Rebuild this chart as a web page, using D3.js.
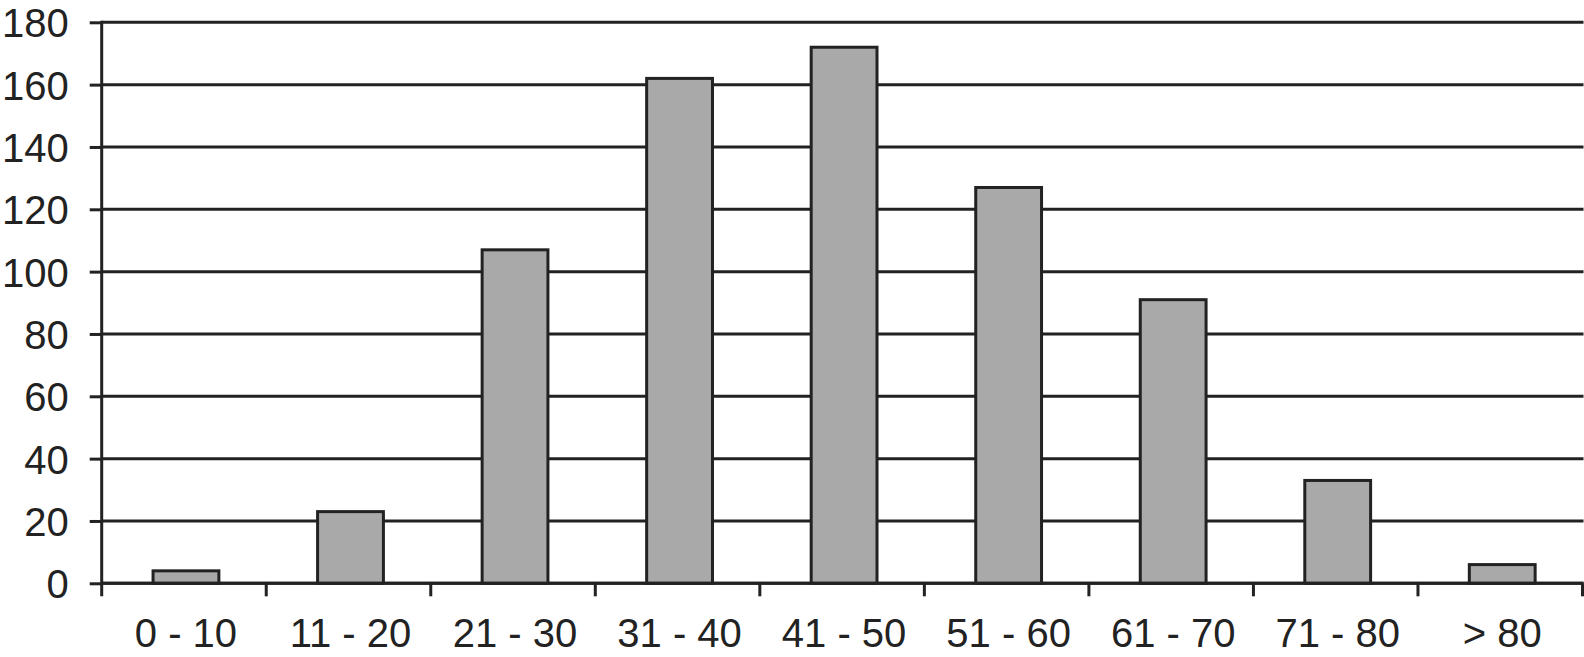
<!DOCTYPE html>
<html><head><meta charset="utf-8">
<script src="https://cdn.jsdelivr.net/npm/d3@7"></script>
<style>html,body{margin:0;padding:0;background:#fff;}svg{display:block;}</style>
</head><body>
<svg id="chart" width="1584" height="657"></svg>
<script>
const categories = ["0 - 10","11 - 20","21 - 30","31 - 40","41 - 50","51 - 60","61 - 70","71 - 80","> 80"];
const values = [4, 23, 107, 162, 172, 127, 91, 33, 6];
const yTicks = [0,20,40,60,80,100,120,140,160,180];

const svg = d3.select("#chart");
const mLeft = 101.7, mRight = 1582.5, mTop = 22.3, mBottom = 583.3;
const ink = "#222";
const font = "'Liberation Sans', Arial, Helvetica, sans-serif";

const y = d3.scaleLinear().domain([0,180]).range([mBottom, mTop]);
const xb = d3.scaleBand().domain(categories).range([mLeft + 2, mRight + 2]).paddingInner(0.6).paddingOuter(0.3);
const xs = d3.scaleBand().domain(categories).range([mLeft, mRight]).padding(0);

// grid lines
svg.append("g").selectAll("line").data(yTicks).join("line")
  .attr("x1", mLeft).attr("x2", mRight + 1)
  .attr("y1", d => y(d)).attr("y2", d => y(d))
  .attr("stroke", ink).attr("stroke-width", 3);

// y axis
const yAxis = svg.append("g").attr("transform", `translate(${mLeft},0)`)
  .call(d3.axisLeft(y).tickValues(yTicks).tickSize(12).tickPadding(21).tickFormat(d3.format("d")));
yAxis.select(".domain").remove();
yAxis.selectAll(".tick line").attr("stroke", ink).attr("stroke-width", 3);
yAxis.selectAll("text").attr("font-family", font).attr("font-size", 40).attr("fill", ink).attr("dy", "0.36em");
svg.append("line").attr("x1", mLeft).attr("x2", mLeft).attr("y1", mTop - 1.5).attr("y2", mBottom + 13)
  .attr("stroke", ink).attr("stroke-width", 3);

// bars
svg.append("g").selectAll("rect").data(values).join("rect")
  .attr("x", (d,i) => xb(categories[i]))
  .attr("width", xb.bandwidth())
  .attr("y", d => y(d))
  .attr("height", d => y(0) - y(d))
  .attr("fill", "#a9a9a9").attr("stroke", ink).attr("stroke-width", 3);

// x axis baseline and ticks
svg.append("line").attr("x1", mLeft).attr("x2", mRight + 1).attr("y1", mBottom).attr("y2", mBottom)
  .attr("stroke", ink).attr("stroke-width", 3);
const bounds = categories.map(c => xs(c)).concat([mRight]);
svg.append("g").selectAll("line").data(bounds.slice(1)).join("line")
  .attr("x1", d => d).attr("x2", d => d).attr("y1", mBottom).attr("y2", mBottom + 13)
  .attr("stroke", ink).attr("stroke-width", 3);

// x labels
svg.append("g").selectAll("text").data(categories).join("text")
  .attr("x", d => xs(d) + xs.bandwidth()/2 + 2)
  .attr("y", 647)
  .attr("text-anchor", "middle")
  .attr("font-family", font).attr("font-size", 40).attr("fill", ink)
  .text(d => d);
</script>
</body></html>
